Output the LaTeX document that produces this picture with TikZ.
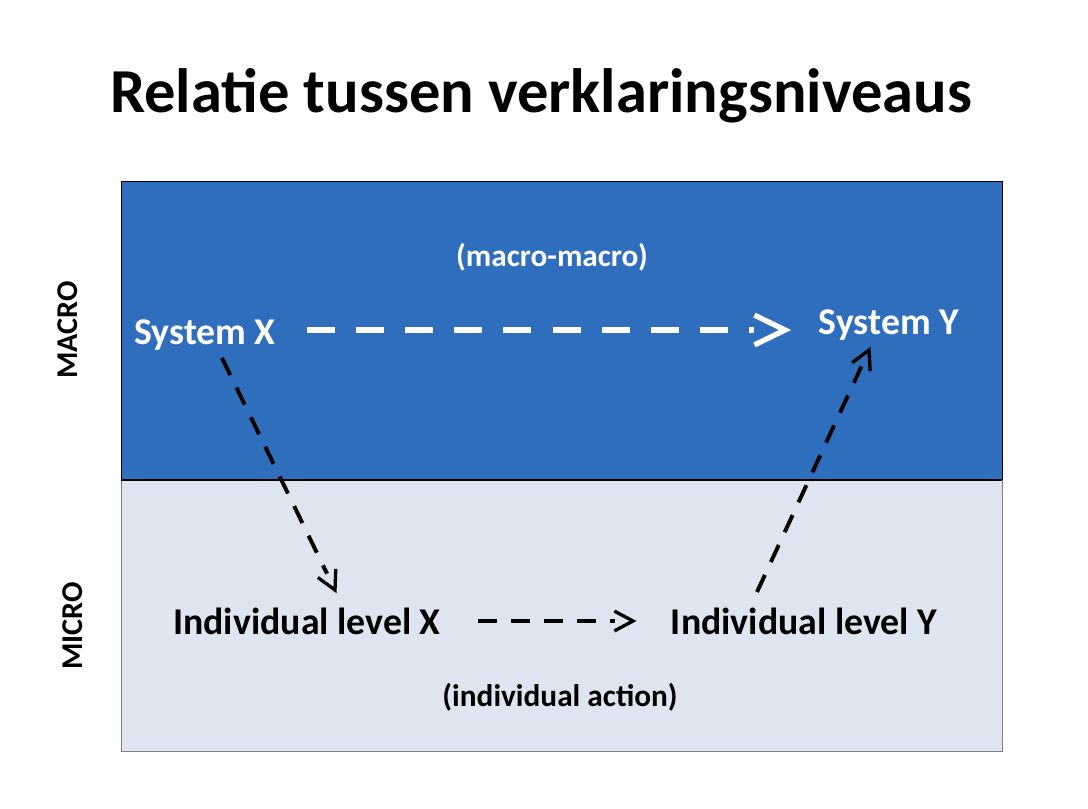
\documentclass[tikz,border=0pt]{standalone}
\usepackage{fontspec}
\setmainfont{Carlito}
\usetikzlibrary{calc}
\definecolor{macroblue}{HTML}{2E6EBC}
\definecolor{microbg}{HTML}{DEE5F0}
\tikzset{
  lbl/.style={font=\bfseries\fontsize{25}{29}\selectfont, inner sep=0pt, anchor=base},
  smalllbl/.style={font=\bfseries\fontsize{20.7}{24}\selectfont, inner sep=0pt, anchor=base},
  sidelbl/.style={font=\bfseries\fontsize{20}{23}\selectfont, inner sep=0pt, rotate=90},
  whiteshaft/.style={white, line width=4pt, dash pattern=on 18.5pt off 14pt},
  whitehead/.style={white, line width=3.5pt, line cap=butt},
  blackshaft/.style={black, line width=2.6pt, dash pattern=on 12.5pt off 9.3pt},
  blackhead/.style={black, line width=2.2pt, line cap=butt}
}
% #1 shaft style, #2 head style, #3 start, #4 tip, #5 arm length, #6 half angle, #7 back distance
\newcommand\myconnector[7]{%
  \draw[#1] (#3) -- ($(#4)!#7!(#3)$);
  \draw[#2] ($(#4)!#5!#6:(#3)$) -- (#4) -- ($(#4)!#5!-#6:(#3)$);
}
\begin{document}
\begin{tikzpicture}[x=0.6618pt, y=-0.6618pt]
\useasboundingbox (0,0) rectangle (1088,808);
\fill[white] (0,0) rectangle (1088,808);
% panels
\filldraw[fill=macroblue, draw=black, line width=0.6pt] (121,181) rectangle (1002,480);
\filldraw[fill=microbg, draw=gray, line width=0.6pt] (121,480) rectangle (1002,751);
\draw[black, line width=0.8pt] (121,480) -- (1002,480);
% title
\node[font=\bfseries\fontsize{41.4}{48}\selectfont, inner sep=0pt, anchor=base] (title) at (541,112) {Relatie tussen verklaringsniveaus};
% side labels
\node[sidelbl] (macro) at (68,330) {MACRO};
\node[sidelbl] (micro) at (73,626) {MICRO};
% texts
\node[smalllbl, text=white] (mm) at (552,266) {(macro-macro)};
\node[lbl, text=white] (sx) at (205,344) {System X};
\node[lbl, text=white] (sy) at (889,334) {System Y};
\node[lbl] (ix) at (307,634) {Individual level X};
\node[lbl] (iy) at (804,634) {Individual level Y};
\node[smalllbl] (ia) at (560,706) {(individual action)};
% connector endpoints
\coordinate (sxs) at (222,358);
\coordinate (ixn) at (335,590);
\coordinate (ixe) at (478,621);
\coordinate (iyw) at (633,621);
\coordinate (iyn) at (757,592);
\coordinate (sys) at (869,350);
\coordinate (sxe) at (307,330);
\coordinate (syw) at (785,330);
% arrows
\myconnector{whiteshaft}{whitehead}{sxe}{syw}{22.5pt}{26}{20.5pt}
\myconnector{blackshaft}{blackhead}{sxs}{ixn}{14pt}{28}{12pt}
\myconnector{blackshaft}{blackhead}{ixe}{iyw}{14pt}{28}{12pt}
\myconnector{blackshaft}{blackhead}{iyn}{sys}{14pt}{28}{12pt}
\end{tikzpicture}
\end{document}
